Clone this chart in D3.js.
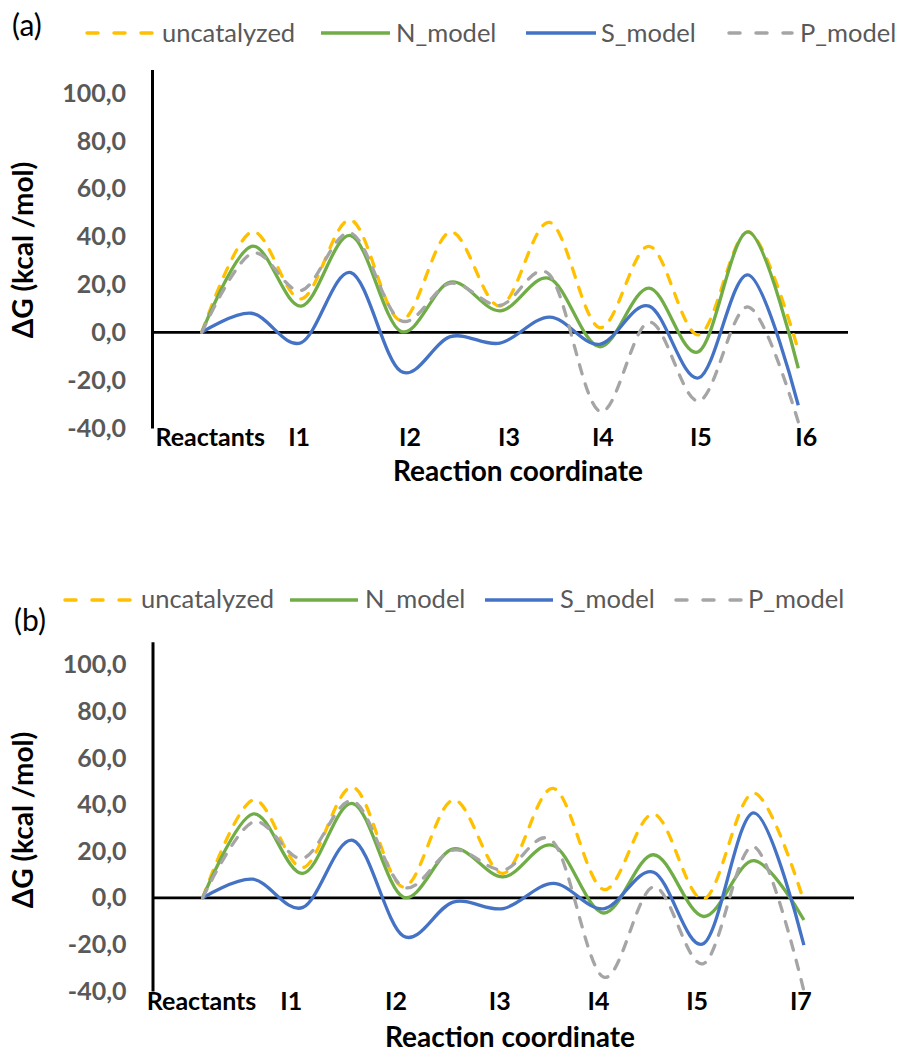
<!DOCTYPE html>
<html>
<head>
<meta charset="utf-8">
<script src="https://cdn.jsdelivr.net/npm/d3@7"></script>
<style>
  html, body { margin: 0; padding: 0; background: #fff; }
  svg { display: block; }
  text { font-family: Lato, "Open Sans", sans-serif; }
</style>
</head>
<body>
<script>
// ---------------- DATA ----------------
// stationary points along the reaction coordinate (index 0..12)
const pointsA = ["Reactants","TS1","I1","TS2","I2","TS3","I3","TS4","I4","TS5","I5","TS6","I6"];
const pointsB = ["Reactants","TS1","I1","TS2","I2","TS3","I3","TS4","I4","TS5","I5","TS6","I7"];

const seriesNames = ["uncatalyzed","N_model","S_model","P_model"];

// panel (a)
const uncatA = [0, 42, 14, 47, 5, 42, 11, 46, 2, 36, -1, 42, -7.5];
const nModelA = [0, 36, 11, 40.5, 0.5, 21, 9, 22.5, -6, 18.5, -8, 42, -15];
const sModelA = [0, 8, -4.3, 25, -16.2, -1.8, -4.5, 6.4, -5, 11, -19, 24, -30.5];
const pModelA = [0, 33, 17.5, 41.5, 5, 20.5, 11.3, 24, -33, 4.3, -28.7, 10.6, -37.5];

// panel (b)
const uncatB = [0, 42, 13, 47.5, 4.7, 42, 10.5, 47, 3.6, 36, -0.5, 45, -1.5];
const nModelB = [0, 36, 10.5, 40.5, 0.4, 21, 9, 22.5, -6.5, 18.5, -8, 16, -9.5];
const sModelB = [0, 8, -4.1, 24.7, -16.3, -1.8, -4.6, 6.2, -4.7, 11, -19.6, 36.5, -20.3];
const pModelB = [0, 32.5, 17, 41.5, 4.7, 20.5, 12, 24, -34, 4.7, -28.2, 22, -40];

// x-axis category labels and their position along the coordinate
const xLabelsA = ["Reactants","I1","I2","I3","I4","I5","I6"];
const xLabelPosA = [0.17, 1.96, 4.19, 6.18, 8.07, 10.04, 12.16];
const xLabelsB = ["Reactants","I1","I2","I3","I4","I5","I7"];
const xLabelPosB = [-0.02, 1.77, 3.86, 5.93, 7.9, 9.87, 11.94];

const yTicks = [-40, -20, 0, 20, 40, 60, 80, 100];
const yDomain = [-40, 110];
const xDomain = [-1, 13];

// ---------------- STYLE ----------------
const colors = { uncatalyzed: "#FFC000", N_model: "#70AD47", S_model: "#4472C4", P_model: "#A5A5A5" };
const dashed = { uncatalyzed: true, N_model: false, S_model: false, P_model: true };

const W = 899, H = 1052;
const svg = d3.select("body").append("svg").attr("width", W).attr("height", H);
svg.append("rect").attr("width", W).attr("height", H).attr("fill", "#fff");

const loc = d3.formatLocale({ decimal: ",", thousands: ".", grouping: [3], currency: ["", ""], minus: "-" });
const fmt = loc.format(".1f");

const panels = [
  {
    letter: "(a)", letterX: 12, letterY: 36,
    left: 152, right: 848, top: 69.4, bottom: 428,
    series: [uncatA, nModelA, sModelA, pModelA],
    xLabels: xLabelsA, xLabelPos: xLabelPosA, xLabelY: 446,
    xTitleX: 518, xTitleY: 481, yTitleX: 23, yTitleY: 250,
    legendY: 33, legendTextY: 41.5,
    legendLines: [[85, 155, 162], [321, 390, 396], [526, 596, 601], [727, 794, 800]]
  },
  {
    letter: "(b)", letterX: 14, letterY: 631,
    left: 152.5, right: 854, top: 641.7, bottom: 991,
    series: [uncatB, nModelB, sModelB, pModelB],
    xLabels: xLabelsB, xLabelPos: xLabelPosB, xLabelY: 1010,
    xTitleX: 510, xTitleY: 1047, yTitleX: 23, yTitleY: 820,
    legendY: 600, legendTextY: 608,
    legendLines: [[63, 134, 141], [290, 358, 365], [485, 553, 560], [674, 743, 748]]
  }
];

panels.forEach(p => {
  const g = svg.append("g");
  const x = d3.scaleLinear().domain(xDomain).range([p.left, p.right]);
  const y = d3.scaleLinear().domain(yDomain).range([p.bottom, p.top]);

  // y axis
  const yAxis = d3.axisLeft(y).tickValues(yTicks).tickFormat(fmt).tickSize(0).tickSizeOuter(0).tickPadding(26);
  const ya = g.append("g").attr("transform", `translate(${p.left},0)`).call(yAxis);
  ya.select(".domain").attr("stroke", "#000").attr("stroke-width", 3);
  ya.selectAll("text").attr("fill", "#595959").attr("font-size", 25).attr("font-weight", 700)
    .attr("font-family", "Lato, sans-serif");

  // zero line
  g.append("line").attr("x1", p.left).attr("x2", p.right).attr("y1", y(0)).attr("y2", y(0))
    .attr("stroke", "#000").attr("stroke-width", 2.8);

  // series
  const line = d3.line().x((d, i) => x(i)).y(d => y(d)).curve(d3.curveCardinal.tension(0));
  p.series.forEach((vals, k) => {
    const name = seriesNames[k];
    g.append("path").datum(vals).attr("d", line).attr("fill", "none")
      .attr("stroke", colors[name]).attr("stroke-width", 3.3)
      .attr("stroke-linecap", dashed[name] ? "round" : "butt")
      .attr("stroke-dasharray", dashed[name] ? "9.5,10.5" : null);
  });

  // category labels
  g.selectAll(".xl").data(p.xLabels).enter().append("text")
    .attr("x", (d, i) => x(p.xLabelPos[i])).attr("y", p.xLabelY)
    .attr("text-anchor", "middle").attr("font-size", 25).attr("font-weight", 700).attr("fill", "#000")
    .text(d => d);

  // axis titles
  g.append("text").attr("x", p.xTitleX).attr("y", p.xTitleY).attr("text-anchor", "middle")
    .attr("font-size", 28).attr("font-weight", 700).attr("fill", "#000").text("Reaction coordinate");
  g.append("text").attr("transform", `translate(${p.yTitleX + 10},${p.yTitleY}) rotate(-90)`)
    .attr("text-anchor", "middle").attr("font-size", 28).attr("font-weight", 700).attr("fill", "#000")
    .text("ΔG (kcal /mol)");

  // panel letter
  g.append("text").attr("x", p.letterX).attr("y", p.letterY).attr("font-size", 30).attr("fill", "#000").text(p.letter);

  // legend
  seriesNames.forEach((name, k) => {
    const [x1, x2, tx] = p.legendLines[k];
    g.append("line").attr("x1", x1 + (dashed[name] ? 2 : 0)).attr("x2", x2 - (dashed[name] ? 2 : 0))
      .attr("y1", p.legendY).attr("y2", p.legendY)
      .attr("stroke", colors[name]).attr("stroke-width", 3.5)
      .attr("stroke-linecap", dashed[name] ? "round" : "butt")
      .attr("stroke-dasharray", dashed[name] ? "11,16" : null);
    g.append("text").attr("x", tx).attr("y", p.legendTextY).attr("font-size", 25.5).attr("fill", "#595959").text(name);
  });
});
</script>
</body>
</html>
